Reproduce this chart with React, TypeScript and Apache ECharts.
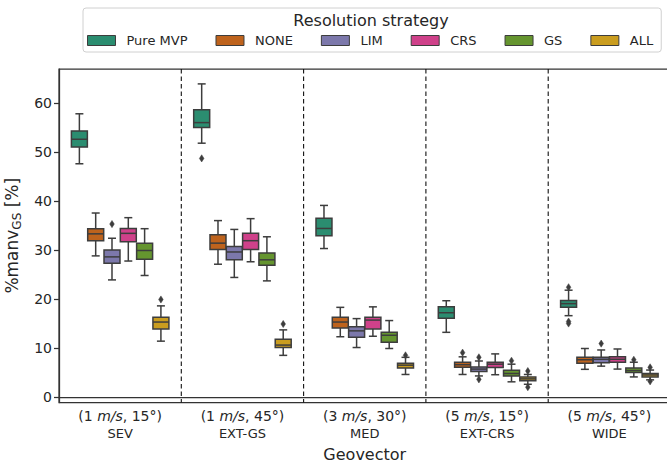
import React, { useEffect, useRef } from 'react';
import * as echarts from 'echarts';

// ---- data ----
const geovectors = ['SEV', 'EXT-GS', 'MED', 'EXT-CRS', 'WIDE'];
const conditions = ['(1 m/s, 15°)', '(1 m/s, 45°)', '(3 m/s, 30°)', '(5 m/s, 15°)', '(5 m/s, 45°)'];
const strategies = ['Pure MVP', 'NONE', 'LIM', 'CRS', 'GS', 'ALL'];
const strategyColors = ['#2b8d70', '#be631d', '#7c78ab', '#cf418a', '#65952f', '#ca9d1f'];
const yTicks = [0, 10, 20, 30, 40, 50, 60];

// [whisker low, Q1, median, Q3, whisker high] per geovector
const pureMvp = [
  [47.6, 51.0, 52.6, 54.3, 57.8],
  [51.8, 55.0, 56.0, 58.6, 63.9],
  [30.3, 32.9, 34.4, 36.5, 39.1],
  [13.2, 16.05, 17.2, 18.4, 19.65],
  [16.6, 18.3, 19.05, 19.7, 21.8],
];
const none = [
  [28.8, 31.9, 33.3, 34.35, 37.55],
  [27.1, 30.1, 31.4, 33.1, 36.0],
  [12.3, 14.1, 15.3, 16.3, 18.3],
  [4.6, 6.05, 6.6, 7.1, 8.2],
  [5.65, 6.9, 7.6, 8.1, 9.9],
];
const lim = [
  [23.9, 27.3, 28.6, 30.0, 32.4],
  [24.4, 28.0, 29.6, 30.7, 34.2],
  [10.1, 12.2, 13.5, 14.35, 16.0],
  [4.3, 5.2, 5.7, 6.1, 7.35],
  [6.3, 7.0, 7.7, 8.1, 9.6],
];
const crs = [
  [27.75, 31.7, 33.4, 34.4, 36.6],
  [27.6, 30.1, 31.9, 33.4, 36.4],
  [12.4, 13.9, 15.7, 16.3, 18.4],
  [4.55, 6.0, 6.7, 7.1, 8.8],
  [5.7, 7.1, 7.7, 8.2, 9.8],
];
const gs = [
  [24.8, 28.1, 29.9, 31.4, 34.35],
  [23.7, 26.9, 28.0, 29.4, 32.7],
  [9.9, 11.2, 12.6, 13.2, 15.6],
  [3.1, 4.3, 4.8, 5.45, 6.7],
  [4.1, 5.0, 5.4, 5.9, 7.1],
];
const all = [
  [11.4, 13.9, 15.3, 16.3, 18.6],
  [8.5, 10.1, 10.6, 11.8, 13.7],
  [4.6, 5.9, 6.5, 6.9, 8.1],
  [2.6, 3.3, 3.7, 4.1, 4.6],
  [3.5, 4.1, 4.5, 4.8, 5.5],
];
const boxStats = [pureMvp, none, lim, crs, gs, all];

// outliers: [geovector index, strategy index, value]
const outliers = [
  [1, 0, 48.7], [4, 0, 22.4], [4, 0, 15.4], [4, 0, 15.0],
  [3, 1, 9.05],
  [0, 2, 35.3], [3, 2, 8.1], [3, 2, 3.6], [4, 2, 10.9],
  [3, 4, 7.4], [4, 4, 7.6],
  [0, 5, 19.9], [1, 5, 14.9], [2, 5, 8.5], [3, 5, 5.3], [3, 5, 2.0], [4, 5, 6.05], [4, 5, 3.2],
];

const LINE = '#3d3d3d';
const TEXT = '#262626';
const FONT = '"DejaVu Sans", sans-serif';
const NH = strategies.length;

function slotX(api: any, g: number, h: number) {
  const band = api.size([1, 0])[0];
  const slot = (band * 0.8) / NH;
  const cx = api.coord([g, 0])[0] - 0.4 * band + slot * (h + 0.5);
  return { cx, w: slot * 0.98 };
}

function boxRenderer(h: number) {
  return (params: any, api: any) => {
    const g = api.value(0);
    const { cx, w } = slotX(api, g, h);
    const y = (i: number) => api.coord([g, api.value(i)])[1];
    const yLo = y(1), yQ1 = y(2), yMed = y(3), yQ3 = y(4), yHi = y(5);
    const ls = { stroke: LINE, lineWidth: 1.5 };
    const cap = w / 4;
    return {
      type: 'group',
      children: [
        { type: 'line', shape: { x1: cx, y1: yQ1, x2: cx, y2: yLo }, style: ls },
        { type: 'line', shape: { x1: cx, y1: yQ3, x2: cx, y2: yHi }, style: ls },
        { type: 'line', shape: { x1: cx - cap, y1: yLo, x2: cx + cap, y2: yLo }, style: ls },
        { type: 'line', shape: { x1: cx - cap, y1: yHi, x2: cx + cap, y2: yHi }, style: ls },
        {
          type: 'rect',
          shape: { x: cx - w / 2, y: yQ3, width: w, height: yQ1 - yQ3 },
          style: { fill: strategyColors[h], stroke: LINE, lineWidth: 1.5 },
        },
        { type: 'line', shape: { x1: cx - w / 2, y1: yMed, x2: cx + w / 2, y2: yMed }, style: ls },
      ],
    };
  };
}

export default function App() {
  const ref = useRef<HTMLDivElement>(null);
  useEffect(() => {
    if (!ref.current) return;
    const chart = echarts.init(ref.current, undefined, { renderer: 'svg' });

    const boxSeries = strategies.map((name, h) => ({
      type: 'custom',
      name,
      color: strategyColors[h],
      itemStyle: { color: strategyColors[h] },
      renderItem: boxRenderer(h),
      encode: { x: 0, y: [1, 2, 3, 4, 5] },
      data: boxStats[h].map((s, g) => [g, ...s]),
      z: 3,
    }));

    const option: any = {
      animation: false,
      color: strategyColors,
      textStyle: { fontFamily: FONT },
      grid: {
        left: 59,
        top: 69,
        width: 611.5,
        height: 333.5,
        containLabel: false,
        outerBoundsMode: 'none',
        show: true,
        borderColor: '#333',
        borderWidth: 1.25,
        backgroundColor: 'transparent',
      },
      legend: {
        data: strategies,
        left: 83,
        top: 8,
        padding: [26, 8, 5, 4],
        itemWidth: 28,
        itemHeight: 10,
        itemGap: 28,
        icon: 'rect',
        borderColor: '#d0d0d0',
        borderWidth: 1,
        borderRadius: 3,
        backgroundColor: '#fff',
        itemStyle: { borderColor: LINE, borderWidth: 1 },
        textStyle: { fontSize: 13, color: TEXT, fontFamily: FONT, padding: [0, 0, 0, 6] },
      },
      graphic: [
        {
          type: 'text',
          x: 371,
          y: 20,
          z: 100,
          style: {
            text: 'Resolution strategy',
            fontSize: 16,
            fontFamily: FONT,
            fill: TEXT,
            textAlign: 'center',
            textVerticalAlign: 'middle',
          },
        },
      ],
      xAxis: {
        type: 'category',
        data: geovectors,
        boundaryGap: true,
        axisLine: { lineStyle: { color: '#333', width: 1.25 } },
        axisTick: { alignWithLabel: true, length: 5, lineStyle: { color: '#333', width: 1.25 } },
        axisLabel: {
          interval: 0,
          margin: 5,
          fontSize: 14,
          lineHeight: 17,
          color: TEXT,
          fontFamily: FONT,
          formatter: (val: string, idx: number) =>
            `${conditions[idx].replace('m/s', '{i|m/s}')}\n{c|${val}}`,
          rich: {
            i: { fontStyle: 'italic', fontSize: 14, lineHeight: 17, color: TEXT, fontFamily: FONT },
            c: { fontSize: 13, lineHeight: 17, color: TEXT, fontFamily: FONT },
          },
        },
        splitLine: { show: false },
        name: 'Geovector',
        nameLocation: 'middle',
        nameGap: 43,
        nameTextStyle: { fontSize: 16, color: TEXT, fontFamily: FONT },
      },
      yAxis: {
        type: 'value',
        min: -1.12,
        max: 66.94,
        axisLine: { show: true, lineStyle: { color: '#333', width: 1.25 } },
        axisTick: { show: true, length: 5, customValues: yTicks, lineStyle: { color: '#333', width: 1.25 } },
        axisLabel: { customValues: yTicks, fontSize: 14, color: TEXT, margin: 7, fontFamily: FONT },
        splitLine: { show: false },
        name: '%manv{sub|GS} [%]',
        nameLocation: 'middle',
        nameGap: 27,
        nameTextStyle: {
          fontSize: 17,
          lineHeight: 22,
          color: TEXT,
          fontFamily: FONT,
          rich: { sub: { fontSize: 12, verticalAlign: 'bottom', lineHeight: 12, color: TEXT, fontFamily: FONT } },
        },
      },
      series: [
        {
          type: 'custom',
          name: 'dividers',
          silent: true,
          data: [0, 1, 2, 3].map((g) => [g]),
          encode: { x: 0 },
          renderItem: (params: any, api: any) => {
            const g = api.value(0);
            const band = api.size([1, 0])[0];
            const x = api.coord([g, 0])[0] + band / 2;
            const cs = params.coordSys;
            return {
              type: 'line',
              shape: { x1: x, y1: cs.y, x2: x, y2: cs.y + cs.height },
              style: { stroke: '#111', lineWidth: 1.1, lineDash: [4.5, 3] },
            };
          },
          z: 1,
        },
        ...boxSeries,
        {
          type: 'custom',
          name: 'outliers',
          data: outliers,
          encode: { x: 0, y: 2 },
          renderItem: (params: any, api: any) => {
            const g = api.value(0);
            const h = api.value(1);
            const { cx } = slotX(api, g, h);
            const cy = api.coord([g, api.value(2)])[1];
            const hw = 2.3, hh = 3.6;
            return {
              type: 'polygon',
              shape: { points: [[cx, cy - hh], [cx + hw, cy], [cx, cy + hh], [cx - hw, cy]] },
              style: { fill: LINE, stroke: LINE, lineWidth: 0.5 },
            };
          },
          z: 4,
        },
      ],
    };
    chart.setOption(option);
    return () => chart.dispose();
  }, []);
  return <div ref={ref} style={{ width: 667, height: 463, position: 'absolute', left: 0, top: 0 }} />;
}
